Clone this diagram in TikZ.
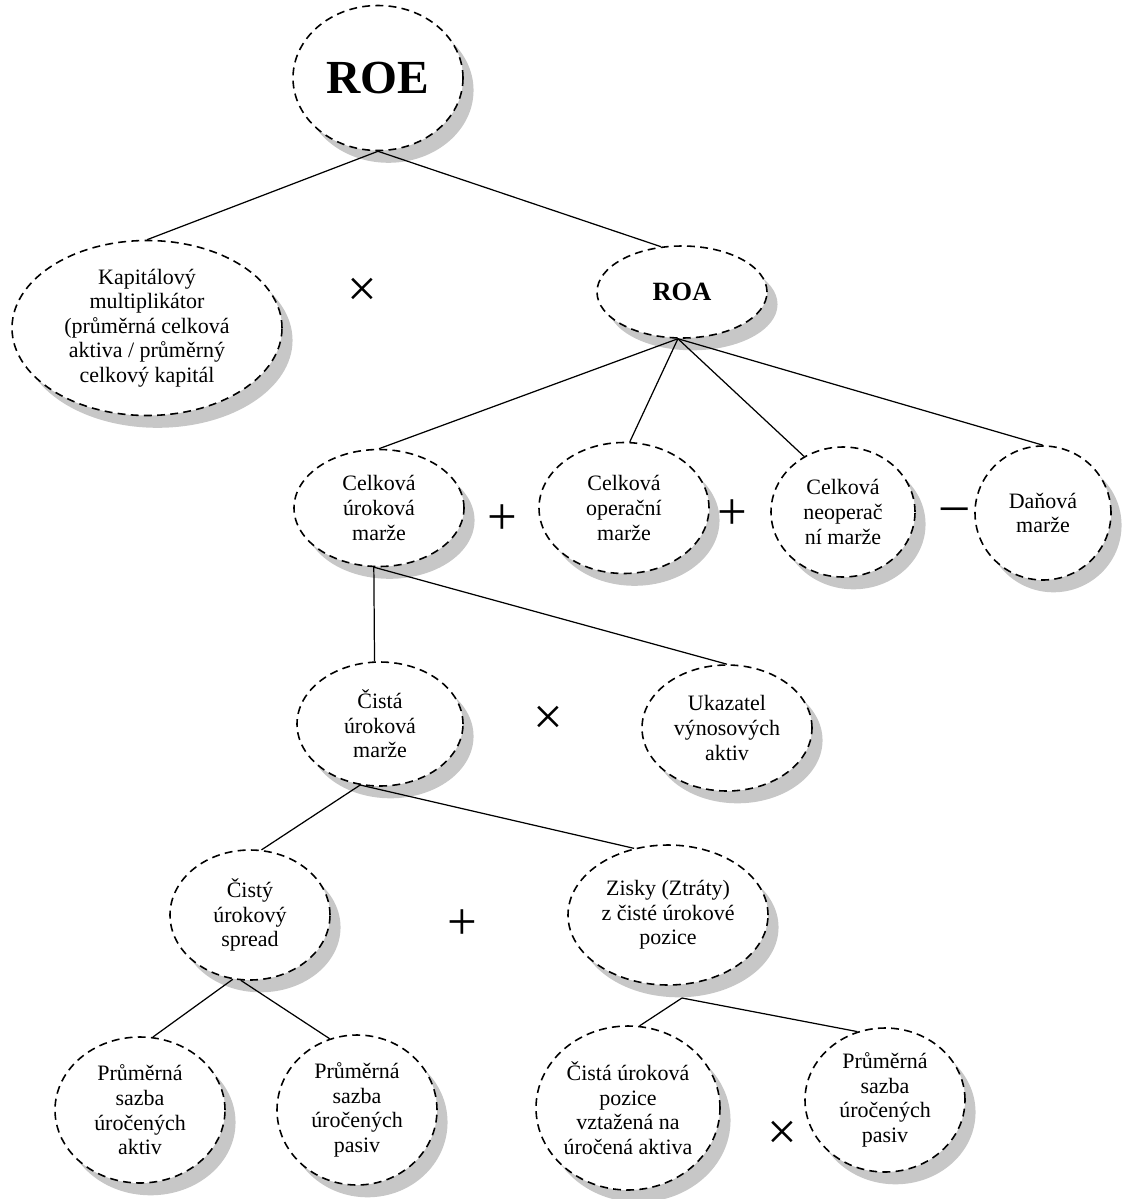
\documentclass[tikz,border=0pt]{standalone}
\usepackage{fontspec}
\setmainfont{Liberation Serif}
\usetikzlibrary{shapes.geometric,shadows}
\tikzset{
	oval/.style={draw, ellipse, dash pattern=on 4.5pt off 3pt, line width=0.9pt,
		fill=white, inner sep=0pt, align=center, font=\fontsize{12.5}{14}\selectfont,
		drop shadow={shadow xshift=6pt, shadow yshift=-7pt, fill=black!22, opacity=1}},
	opsign/.style={font=\fontsize{30}{30}\selectfont, inner sep=0pt}
}

\begin{document}
\begin{tikzpicture}[-, semithick, every edge/.style={draw, line width=0.7pt}]
	\useasboundingbox (0,0) rectangle (22.52,-23.98);
	
	\node[oval, minimum width=3.4cm, minimum height=2.9cm, font=\fontsize{27}{30}\selectfont\bfseries] (roe) at (7.56,-1.56) {ROE};
	\node[oval, minimum width=5.4cm, minimum height=3.5cm] (kap) at (2.94,-6.56) {Kapitálový\\ multiplikátor\\ (průměrná celková\\ aktiva / průměrný\\ celkový kapitál};
	\node[oval, minimum width=3.4cm, minimum height=1.84cm, font=\fontsize{15}{17}\selectfont\bfseries] (roa) at (13.64,-5.84) {ROA};
	
	\node[oval, minimum width=3.4cm, minimum height=2.34cm] (cum) at (7.58,-10.16) {Celková\\ úroková\\ marže};
	\node[oval, minimum width=3.4cm, minimum height=2.62cm] (com) at (12.48,-10.16) {Celková\\ operační\\ marže};
	\node[oval, minimum width=2.88cm, minimum height=2.6cm] (cnm) at (16.86,-10.24) {Celková\\ neoperač\\ ní marže};
	\node[oval, minimum width=2.72cm, minimum height=2.68cm] (dm) at (20.86,-10.26) {Daňová\\ marže};
	
	\node[oval, minimum width=3.32cm, minimum height=2.48cm] (cistum) at (7.6,-14.48) {Čistá\\ úroková\\ marže};
	\node[oval, minimum width=3.4cm, minimum height=2.52cm] (uva) at (14.54,-14.56) {Ukazatel\\ výnosových\\ aktiv};
	
	\node[oval, minimum width=3.2cm, minimum height=2.6cm] (cus) at (5.0,-18.3) {Čistý\\ úrokový\\ spread};
	\node[oval, minimum width=4.0cm, minimum height=2.8cm] (zisky) at (13.36,-18.3) {Zisky (Ztráty)\\ z čisté úrokové\\ pozice};
	
	\node[oval, minimum width=3.4cm, minimum height=2.92cm] (psa) at (2.8,-22.2) {Průměrná\\ sazba\\ úročených\\ aktiv};
	\node[oval, minimum width=3.2cm, minimum height=3.0cm] (psp) at (7.14,-22.2) {Průměrná\\ sazba\\ úročených\\ pasiv};
	\node[oval, minimum width=3.68cm, minimum height=3.28cm] (cup) at (12.56,-22.16) {Čistá úroková\\ pozice\\ vztažená na\\ úročená aktiva};
	\node[oval, minimum width=3.2cm, minimum height=2.88cm] (pspb) at (17.7,-22.0) {Průměrná\\ sazba\\ úročených\\ pasiv};
	
	% operators
	\node[opsign] (op1) at (7.24,-5.84) {×};
	\node[opsign] (op2) at (10.04,-10.4) {+};
	\node[opsign] (op3) at (14.64,-10.3) {+};
	\node[opsign] (op4) at (19.1,-10.3) {–};
	\node[opsign] (op5) at (10.96,-14.4) {×};
	\node[opsign] (op6) at (9.24,-18.5) {+};
	\node[opsign] (op7) at (15.64,-22.7) {×};
	
	\coordinate (zb) at (13.64,-19.96);
	
	\path (roe.south) edge (kap.north);
	\path (roe.south) edge (roa.115);
	
	\path (roa.265) edge (cum.north)
		(roa.265) edge (com.85)
		(roa.265) edge (cnm.125)
		(roa.265) edge (dm.north);
	
	\path (cum.265) edge (cistum.95);
	\path (cum.265) edge (uva.north);
	
	\path (cistum.252) edge (cus.80);
	\path (cistum.252) edge (zisky.117);
	
	\path (cus.255) edge (psa.80);
	\path (cus.262) edge (psp.111);
	
	\path (zb) edge (cup.82);
	\path (zb) edge (pspb.112);
\end{tikzpicture}
\end{document}
